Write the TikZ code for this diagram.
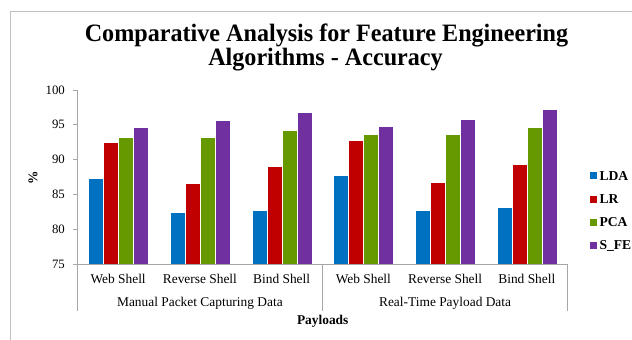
\documentclass[tikz,border=0pt]{standalone}
\usepackage{fontspec}
\setmainfont{Liberation Serif}
\definecolor{barc0}{HTML}{0070C0}
\definecolor{barc1}{HTML}{C00000}
\definecolor{barc2}{HTML}{669900}
\definecolor{barc3}{HTML}{7030A0}
\definecolor{framegray}{HTML}{BFBFBF}
\definecolor{axisgray}{HTML}{A6A6A6}
\newcommand{\narrowtitle}[1]{\scalebox{0.965}[1]{#1}}
\begin{document}
\begin{tikzpicture}[x=1pt,y=-1pt,
  titletext/.style={anchor=base,inner sep=0pt,text depth=0pt,text height=16pt,font=\fontsize{25}{27}\selectfont\bfseries},
  ticklabel/.style={anchor=east,inner sep=0pt,font=\fontsize{12.8}{14}\selectfont},
  catlabel/.style={inner sep=0pt,font=\fontsize{13.4}{15}\selectfont},
  boldlabel/.style={inner sep=0pt,font=\fontsize{13.4}{15}\selectfont\bfseries},
  legendtext/.style={anchor=base west,inner sep=0pt,font=\fontsize{13.6}{15}\selectfont\bfseries},
  axisline/.style={draw=axisgray,line width=0.8pt},
  barbox/.style={draw=white,line width=0.3pt}]
\useasboundingbox (0,0) rectangle (632,340);
% chart frame
\draw[framegray,line width=0.8pt] (632,11) -- (10,11) -- (10,340);
% title, two lines
\node[titletext] (t1) at (326.5,41.3) {\narrowtitle{Comparative Analysis for Feature Engineering}};
\node[titletext] (t2) at (325.5,65.8) {\narrowtitle{Algorithms - Accuracy}};
% bars: one group of four per category
\foreach \vals [count=\i from 0] in {{87.4,92.5,93.2,94.6},{82.5,86.6,93.2,95.6},{82.7,89.0,94.2,96.8},{87.7,92.8,93.6,94.8},{82.7,86.8,93.6,95.8},{83.1,89.3,94.6,97.2}}{
  \foreach \v [count=\j from 0] in \vals {
    \pgfmathsetmacro\bx{77.3+\i*81.73+10.9+\j*15}
    \pgfmathsetmacro\by{264-(\v-75)*6.96}
    \draw[barbox,fill=barc\j] (\bx,264) rectangle ({\bx+15},\by);
  }
}
% value axis
\draw[axisline] (77.3,90) -- (77.3,311);
\foreach \t [count=\k from 0] in {75,80,85,90,95,100}{
  \draw[axisline] (73.3,{264-\k*34.8}) -- (77.3,{264-\k*34.8});
  \node[ticklabel] (tl\t) at (65,{264-\k*34.8}) {\t};
}
\node[boldlabel,rotate=90] (ylab) at (33,178) {\%};
% category axis with group dividers
\draw[axisline] (77.3,264) -- (567.7,264);
\draw[axisline] (322.5,264) -- (322.5,311);
\draw[axisline] (567.7,264) -- (567.7,311);
\foreach \c [count=\i from 0] in {Web Shell,Reverse Shell,Bind Shell,Web Shell,Reverse Shell,Bind Shell}{
  \node[catlabel] (cat\i) at ({77.3+(\i+0.5)*81.73},279.3) {\c};
}
\node[catlabel] (g1) at (199.9,303.3) {Manual Packet Capturing Data};
\node[catlabel] (g2) at (445.1,303.3) {Real-Time Payload Data};
\node[boldlabel] (xlab) at (322.7,321) {Payloads};
% legend
\foreach \n/\y [count=\j from 0] in {LDA/175.7,LR/199.3,PCA/222.3,S\_FE/245.2}{
  \fill[barc\j] (590,{\y-3.4}) rectangle (597,{\y+3.4});
  \node[legendtext] (leg\j) at (599.3,{\y+4.5}) {\n};
}
\end{tikzpicture}
\end{document}
